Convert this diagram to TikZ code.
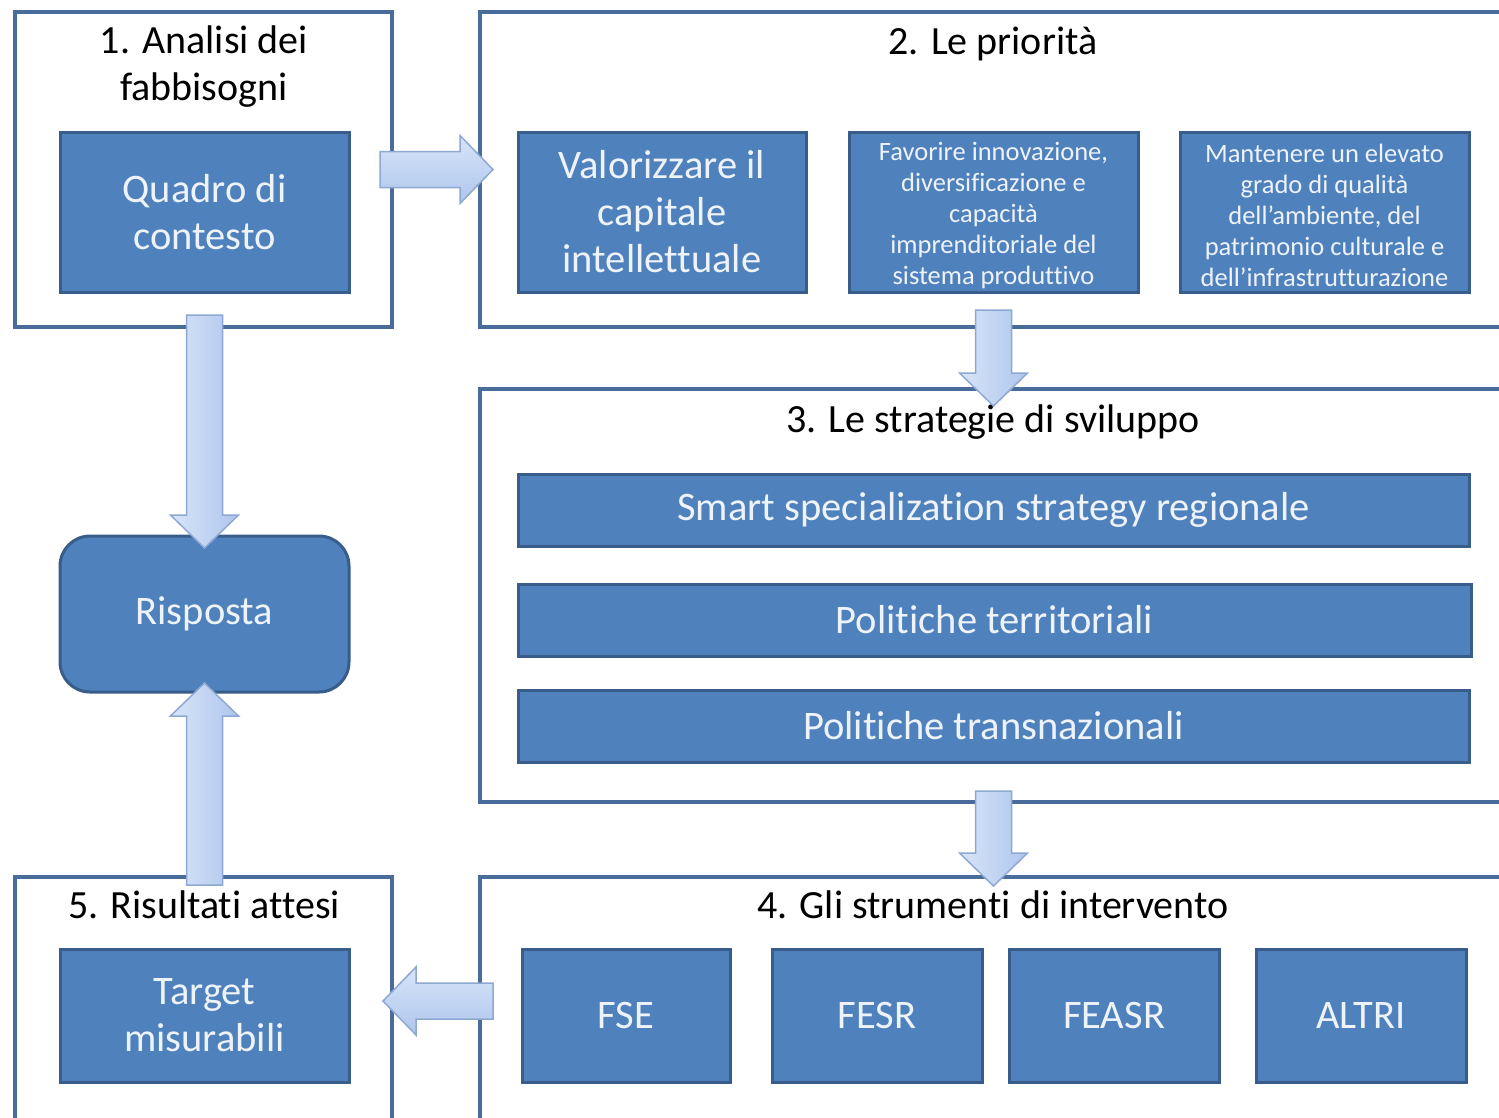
\documentclass[tikz,border=0pt]{standalone}
\usepackage{fontspec}
\setmainfont{Carlito}[Ligatures=NoCommon]
\usetikzlibrary{calc}
\definecolor{framecol}{HTML}{4A6C9B}
\definecolor{boxfill}{HTML}{4F81BD}
\definecolor{boxline}{HTML}{385D8A}
\definecolor{boxtext}{HTML}{EEF3FA}
\definecolor{arrline}{HTML}{8EA8D4}
\definecolor{arrlight}{HTML}{D8E5F9}
\definecolor{arrdark}{HTML}{AEC5EC}
\tikzset{
  frame/.style={draw=framecol, line width=4pt, fill=white, inner sep=0pt, outer sep=0pt},
  bluebox/.style={draw=boxline, line width=3pt, fill=boxfill, text=boxtext, align=center,
    inner sep=0pt, outer sep=0pt, font=\fontsize{40.5}{47}\selectfont},
  smallbox/.style={bluebox, font=\fontsize{26.5}{31}\selectfont},
  title/.style={anchor=base, font=\fontsize{40}{47}\selectfont, text=black, inner sep=0pt},
  varrow/.style={draw=arrline, line width=1.5pt, left color=arrlight, right color=arrdark, line join=miter},
  harrow/.style={draw=arrline, line width=1.5pt, top color=arrlight, bottom color=arrdark, line join=miter},
}
\newcommand{\blockarrow}[3]{%
  \coordinate (ba-h) at ($(#3)!33pt!(#2)$);
  \path[#1] ($(#2)!18pt!90:(#3)$) -- ($(ba-h)!18pt!90:(#3)$) -- ($(ba-h)!34pt!90:(#3)$) -- (#3)
    -- ($(ba-h)!34pt!-90:(#3)$) -- ($(ba-h)!18pt!-90:(#3)$) -- ($(#2)!18pt!-90:(#3)$) -- cycle;
}
\begin{document}
\begin{tikzpicture}[x=1pt,y=-1pt]
\useasboundingbox (0,0) rectangle (1499,1117);
\clip (0,0) rectangle (1499,1117);
\fill[white] (0,0) rectangle (1499,1117);

% frames
\node[frame, minimum width=377pt, minimum height=315pt] (f1) at (203.5,169.5) {};
\node[frame, minimum width=1050pt, minimum height=315pt] (f2) at (1005,169.5) {};
\node[frame, minimum width=1050pt, minimum height=413pt] (f3) at (1005,595.5) {};
\node[frame, minimum width=1050pt, minimum height=248pt] (f4) at (1005,1001) {};
\node[frame, minimum width=377pt, minimum height=248pt] (f5) at (203.5,1001) {};

% titles
\node[title] (t1a) at (204,53) {1. Analisi dei};
\node[title] (t1b) at (204,100) {fabbisogni};
\node[title] (t2) at (993,54) {2. Le priorità};
\node[title] (t3) at (993,432) {3. Le strategie di sviluppo};
\node[title] (t4) at (993,918) {4. Gli strumenti di intervento};
\node[title] (t5) at (204,918) {5. Risultati attesi};

% boxes
\node[bluebox, minimum width=289pt, minimum height=160pt] (quadro) at (204.5,212) {Quadro di\\contesto};
\node[bluebox, minimum width=288pt, minimum height=160pt] (valor) at (662,212) {Valorizzare il\\capitale\\intellettuale};
\node[smallbox, minimum width=289pt, minimum height=160pt] (favorire) at (993.5,212) {\parbox{280pt}{\centering\vspace*{7pt}Favorire innovazione,\\diversificazione e\\capacità\\imprenditoriale del\\sistema produttivo}};
\node[smallbox, minimum width=289pt, minimum height=160pt] (mantenere) at (1324.5,212) {\parbox{285pt}{\centering\vspace*{6pt}Mantenere un elevato\\grado di qualità\\dell’ambiente, del\\patrimonio culturale e\\dell’infrastrutturazione}};
\node[bluebox, minimum width=951pt, minimum height=72pt] (smart) at (993.5,510) {Smart specialization strategy regionale};
\node[bluebox, minimum width=953pt, minimum height=72pt] (territ) at (994.5,620) {Politiche territoriali};
\node[bluebox, minimum width=951pt, minimum height=72pt] (transn) at (993.5,726) {Politiche transnazionali};
\node[bluebox, rounded corners=30pt, minimum width=289pt, minimum height=156pt] (risp) at (204.5,614) {Risposta};
\node[bluebox, minimum width=208pt, minimum height=133pt] (fse) at (626,1015.5) {FSE};
\node[bluebox, minimum width=210pt, minimum height=133pt] (fesr) at (877,1015.5) {FESR};
\node[bluebox, minimum width=210pt, minimum height=133pt] (feasr) at (1114,1015.5) {FEASR};
\node[bluebox, minimum width=210pt, minimum height=133pt] (altri) at (1361,1015.5) {ALTRI};
\node[bluebox, minimum width=289pt, minimum height=133pt] (target) at (204.5,1015.5) {Target\\misurabili};

% arrow end points
\coordinate (a1s) at ($(f1.east)+(-12,0)$);
\coordinate (a1t) at ($(f2.west)+(13,0)$);
\coordinate (a2s) at ($(quadro.south)+(0,23)$);
\coordinate (a2t) at ($(risp.north)+(0,12)$);
\coordinate (a3s) at ($(favorire.south)+(0,18)$);
\coordinate (a3t) at ($(favorire.south |- f3.north)+(0,17)$);
\coordinate (a4s) at ($(transn.south)+(0,29)$);
\coordinate (a4t) at ($(transn.south |- f4.north)+(0,9)$);
\coordinate (a5s) at ($(f4.west)+(13,0)$);
\coordinate (a5t) at ($(f5.east)+(-9,0)$);
\coordinate (a6s) at ($(risp.south |- f5.north)+(0,8)$);
\coordinate (a6t) at ($(risp.south)+(0,-9)$);

% block arrows
\blockarrow{harrow}{a1s}{a1t}
\blockarrow{varrow}{a2s}{a2t}
\blockarrow{varrow}{a3s}{a3t}
\blockarrow{varrow}{a4s}{a4t}
\blockarrow{harrow}{a5s}{a5t}
\blockarrow{varrow}{a6s}{a6t}
\end{tikzpicture}
\end{document}
